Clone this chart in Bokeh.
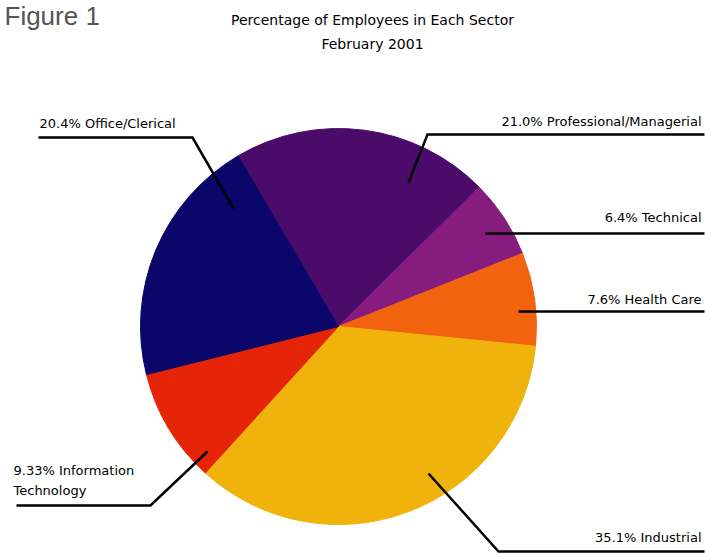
import math
from bokeh.plotting import figure
from bokeh.models import Range1d, ColumnDataSource
from bokeh.core.properties import value
from bokeh.embed import file_html
from bokeh.resources import INLINE

# ---- data ----
sectors = ["Professional/Managerial", "Technical", "Health Care", "Industrial",
           "Information Technology", "Office/Clerical"]
percents = [21.0, 6.4, 7.6, 35.1, 9.33, 20.4]
pct_labels = ["21.0%", "6.4%", "7.6%", "35.1%", "9.33%", "20.4%"]
colors = ["#4a0b6b", "#871c7f", "#f2630f", "#f0b30c", "#e62407", "#0b0669"]

title_lines = ["Percentage of Employees in Each Sector", "February 2001"]
fig_label = "Figure 1"

W, H = 705, 556


def sx(X):  # screen px -> data x
    return X


def sy(Y):  # screen px -> data y
    return H - Y


p = figure(width=W, height=H, output_backend="svg", toolbar_location=None,
           x_range=Range1d(0, W), y_range=Range1d(0, H), min_border=0)
p.axis.visible = False
p.grid.visible = False
p.outline_line_color = None
p.background_fill_color = "white"
p.border_fill_color = "white"

# ---- pie ----
cx, cy, R = sx(338), sy(326), 198
start_deg = 120.5
total = sum(percents)
starts, ends = [], []
a = start_deg
for v in percents:
    b = a - v / total * 360.0
    starts.append(math.radians(b))
    ends.append(math.radians(a))
    a = b
src = ColumnDataSource(dict(start=starts, end=ends, color=colors, name=sectors))
p.wedge(x=cx, y=cy, radius=R, start_angle="start", end_angle="end",
        direction="anticlock", fill_color="color", line_color="color",
        line_width=1, source=src)

# ---- leader lines (screen px) ----
leaders = [
    [(704, 134), (427, 134), (408, 182)],   # Professional
    [(704, 233), (485, 233)],               # Technical
    [(704, 311), (518, 311)],               # Health Care
    [(704, 551), (498, 551), (428, 473)],   # Industrial
    [(16, 505), (150, 505), (207, 451)],    # IT
    [(38, 137), (192, 137), (233, 208)],    # Office
]
p.multi_line(xs=[[sx(x) for x, _ in l] for l in leaders],
             ys=[[sy(y) for _, y in l] for l in leaders],
             line_color="black", line_width=2.5, line_join="miter")

# ---- labels ----
font = value("DejaVu Sans")
lab_x, lab_y, lab_t, lab_al = [], [], [], []
right_pos = [(701, 121), (701, 217), (701, 299), (701, 537)]
for i, (X, Y) in enumerate(right_pos):
    lab_x.append(sx(X)); lab_y.append(sy(Y))
    lab_t.append(pct_labels[i] + " " + sectors[i]); lab_al.append("right")
# IT two lines
lab_x += [sx(13), sx(13)]; lab_y += [sy(470), sy(490)]
lab_t += [pct_labels[4] + " Information", "Technology"]; lab_al += ["left", "left"]
# Office
lab_x.append(sx(39)); lab_y.append(sy(123))
lab_t.append(pct_labels[5] + " " + sectors[5]); lab_al.append("left")

p.text(x=lab_x, y=lab_y, text=lab_t, text_align=lab_al, text_baseline="middle",
       text_font=font, text_font_size="13px", text_color="black")

# ---- titles ----
p.text(x=[sx(372), sx(372)], y=[sy(19), sy(43)], text=title_lines,
       text_align="center", text_baseline="middle", text_font=font,
       text_font_size="14px", text_color="black")
p.text(x=[sx(4)], y=[sy(15)], text=[fig_label], text_align="left",
       text_baseline="alphabetic", text_font=value("Liberation Sans"),
       text_font_size="26px", text_color="#555555")

open("out.html", "w").write(file_html(p, INLINE))
